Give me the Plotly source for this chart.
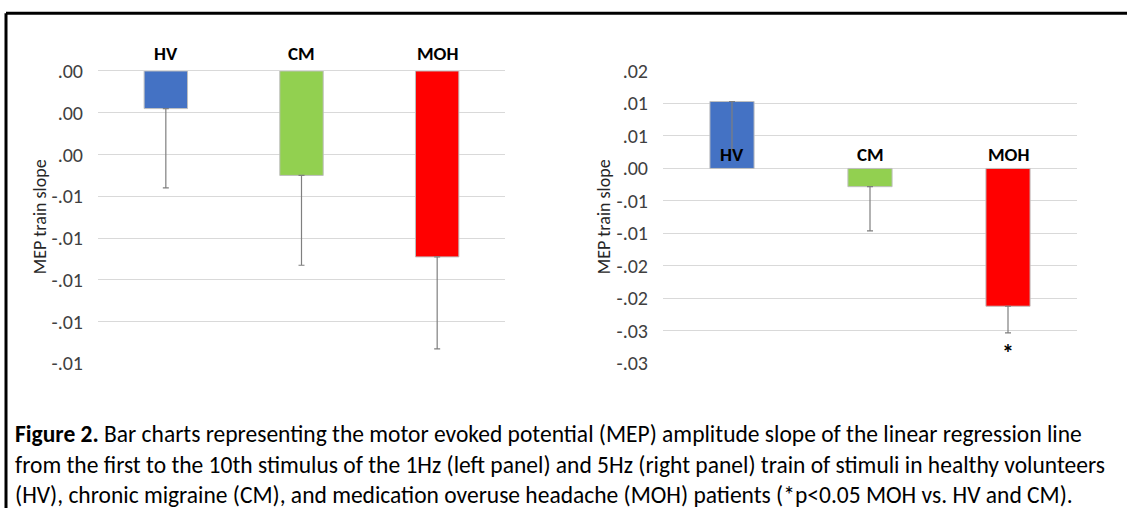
import plotly.graph_objects as go

categories = ["HV", "CM", "MOH"]
colors = ["#4472C4", "#92D050", "#FF0000"]

# Left panel (1Hz)
left_values = [-0.0018, -0.0050, -0.0089]
left_err = [0.0038, 0.0043, 0.0044]
left_tickvals = [0, -0.002, -0.004, -0.006, -0.008, -0.010, -0.012, -0.014]
left_ticktext = [".00", ".00", ".00", "-.01", "-.01", "-.01", "-.01", "-.01"]

# Right panel (5Hz)
right_values = [0.0103, -0.0028, -0.0212]
right_err = [0.0074, 0.0068, 0.0041]
right_tickvals = [0.015, 0.010, 0.005, 0, -0.005, -0.010, -0.015, -0.020, -0.025, -0.030]
right_ticktext = [".02", ".01", ".01", ".00", "-.01", "-.01", "-.02", "-.02", "-.03", "-.03"]
right_sig = ["", "", "*"]

y_title = "MEP train slope"
caption_lines = [
    "<b>Figure 2.</b> Bar charts representing the motor evoked potential (MEP) amplitude slope of the linear regression line",
    "from the first to the 10th stimulus of the 1Hz (left panel) and 5Hz (right panel) train of stimuli in healthy volunteers",
    "(HV), chronic migraine (CM), and medication overuse headache (MOH) patients (*p<0.05 MOH vs. HV and CM).",
]

W, H = 1127, 515
FONT = "Carlito, Lato, 'Open Sans', sans-serif"

fig = go.Figure()

def add_bars(vals, errs, xa, ya):
    fig.add_trace(go.Bar(
        x=categories, y=vals, xaxis=xa, yaxis=ya,
        marker=dict(color=colors, line=dict(color="#BFBFBF", width=1)),
        error_y=dict(type="data", symmetric=False, array=[0, 0, 0], arrayminus=errs,
                     color="#7F7F7F", thickness=1.2, width=3),
        width=0.32, showlegend=False, hoverinfo="skip",
    ))

add_bars(left_values, left_err, "x", "y")
add_bars(right_values, right_err, "x2", "y2")

def px_x(p):
    return p / W

# vertical placement helper (target pixel -> paper fraction, with small compensation)
def px_y(p):
    q = (p - 9.3) / 0.965
    return 1 - q / H

grid = "#D9D9D9"
tickfont = dict(family=FONT, size=20, color="#404040")
common_y = dict(showgrid=True, gridcolor=grid, gridwidth=1.3, zeroline=True, zerolinecolor=grid,
                zerolinewidth=1.3, ticks="", tickfont=tickfont, ticklabelstandoff=14,
                showline=False, tickmode="array")
common_x = dict(showgrid=False, zeroline=False, showticklabels=False, ticks="", showline=False,
                range=[-0.5, 2.5])

fig.update_layout(
    width=W, height=H, margin=dict(l=0, r=0, t=0, b=0),
    paper_bgcolor="white", plot_bgcolor="white",
    bargap=0.68,
    xaxis=dict(domain=[px_x(98), px_x(505)], anchor="y", **common_x),
    yaxis=dict(domain=[px_y(365), px_y(69)], anchor="x", range=[-0.014, 0],
               tickvals=left_tickvals, ticktext=left_ticktext, **common_y),
    xaxis2=dict(domain=[px_x(663), px_x(1077)], anchor="y2", **common_x),
    yaxis2=dict(domain=[px_y(365), px_y(69)], anchor="x2", range=[-0.030, 0.015],
                tickvals=right_tickvals, ticktext=right_ticktext, **common_y),
)

anns = []
labfont = dict(family=FONT, size=19, color="black")
for c in categories:
    anns.append(dict(x=c, y=px_y(51), xref="x", yref="paper", text=f"<b>{c}</b>",
                     showarrow=False, font=labfont, xanchor="center", yanchor="middle"))
    anns.append(dict(x=c, y=0, xref="x2", yref="y2", text=f"<b>{c}</b>",
                     showarrow=False, font=labfont, xanchor="center", yanchor="bottom", yshift=0))
for c, v, e, s in zip(categories, right_values, right_err, right_sig):
    if s:
        anns.append(dict(x=c, y=v - e, xref="x2", yref="y2", text=f"<b>{s}</b>",
                         showarrow=False, font=dict(family=FONT, size=24, color="black"),
                         xanchor="center", yanchor="top", yshift=-3))

titlefont = dict(family=FONT, size=18, color="#262626")
anns.append(dict(x=px_x(40), y=px_y(217), xref="paper", yref="paper", text=y_title, textangle=-90,
                 showarrow=False, font=titlefont, xanchor="center", yanchor="middle"))
anns.append(dict(x=px_x(604), y=px_y(217), xref="paper", yref="paper", text=y_title, textangle=-90,
                 showarrow=False, font=titlefont, xanchor="center", yanchor="middle"))

capfont = dict(family=FONT, size=23.5, color="black")
anns.append(dict(x=px_x(13), y=px_y(467), xref="paper", yref="paper", text="<br>".join(caption_lines),
                 showarrow=False, font=capfont, xanchor="left", yanchor="middle", align="left"))

fig.update_layout(annotations=anns)

# Figure border (top and left edges)
top = min(1.0, px_y(10.5))
fig.add_shape(type="line", xref="paper", yref="paper", x0=px_x(6), x1=1.01, y0=top, y1=top,
              line=dict(color="black", width=3))
fig.add_shape(type="line", xref="paper", yref="paper", x0=px_x(6), x1=px_x(6), y0=-0.01, y1=top,
              line=dict(color="black", width=3))

fig.write_html(
    "out.html",
    post_script="document.body.style.margin='0';document.body.style.padding='0';",
)
